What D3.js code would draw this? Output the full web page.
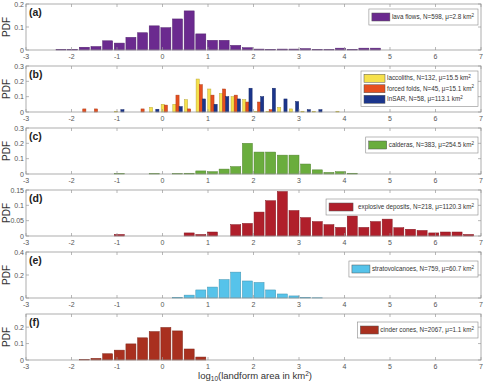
<!DOCTYPE html>
<meta charset="utf-8">
<head>
<script src="https://d3js.org/d3.v7.min.js"></script>
<style>
  body { margin: 0; background: #fff; }
  svg { font-family: "Liberation Sans", Arial, sans-serif; }
</style>
</head>
<body>
<svg id="chart" width="486" height="381"></svg>
<script>
// bin centres shared by all panels (log10 area), bin width ~0.256
const binCenters = d3.range(36).map(i => -2.23 + i * 0.256);
const binWidth = 0.256;

const lavaFlows = [0.003,0.003,0.012,0.015,0.040,0.030,0.055,0.075,0.105,0.097,0.135,0.170,0.070,0.042,0.042,0.020,0.010,0.004,0.003,0.004,0.004,0.006,0.003,0.002,0.008,0.003,0.008,0.008,0,0,0,0,0,0,0,0];
const laccoliths = [0,0,0,0,0,0.005,0,0,0.030,0.050,0.050,0.080,0.215,0.150,0.120,0.100,0.080,0.005,0.004,0.030,0.020,0.005,0.004,0,0.005,0,0,0,0,0,0,0,0,0,0,0];
const forcedFolds = [0,0,0.020,0.020,0,0,0,0.020,0,0.045,0.110,0.020,0.178,0.110,0.150,0.110,0.065,0.065,0.015,0,0,0,0,0,0,0,0,0,0,0,0,0,0,0,0,0];
const insar = [0,0,0,0,0,0.015,0,0,0.018,0,0.035,0,0.085,0.050,0.100,0.085,0.155,0.100,0.155,0.085,0.068,0.015,0.015,0,0,0,0,0,0,0,0,0,0,0,0,0];
const calderas = [0,0,0,0,0,0.002,0,0,0.002,0,0.002,0.005,0.020,0.015,0.032,0.048,0.200,0.143,0.143,0.123,0.123,0.065,0.027,0.010,0.015,0.005,0,0,0,0,0,0,0,0,0,0];
const explosive = [0,0,0,0,0,0.005,0,0,0,0,0,0.010,0.005,0.013,0,0.037,0.041,0.078,0.115,0.145,0.083,0.060,0.047,0.037,0.028,0.065,0.028,0.047,0.055,0.027,0.022,0.018,0.010,0.013,0.013,0.005];
const strato = [0,0,0,0,0,0,0,0,0,0,0.005,0.025,0.070,0.095,0.160,0.225,0.148,0.135,0.070,0.035,0.018,0.004,0.002,0,0,0,0,0,0,0,0,0,0,0,0,0];
const cinder = [0,0,0.002,0.010,0.038,0.060,0.098,0.135,0.173,0.198,0.177,0.067,0.018,0,0,0,0,0,0,0,0,0,0,0,0,0,0,0,0,0,0,0,0,0,0,0];

const xTicks = [-3,-2,-1,0,1,2,3,4,5,6,7];

const panels = [
  {label:"(a)", yMax:0.2, yTicks:[0,0.1,0.2], legTop:5,
   series:[{values:lavaFlows, color:"#6b2a8f", text:"lava flows, N=598, \u03bc=2.8 km"}]},
  {label:"(b)", yMax:0.3, yTicks:[0,0.1,0.2,0.3], legTop:5, grouped:true,
   series:[{values:laccoliths, color:"#f6e14c", text:"laccoliths, N=132, \u03bc=15.5 km"},
           {values:forcedFolds, color:"#e64f1f", text:"forced folds, N=45, \u03bc=15.1 km"},
           {values:insar, color:"#1b358c", text:"InSAR, N=58, \u03bc=113.1 km"}]},
  {label:"(c)", yMax:0.3, yTicks:[0,0.1,0.2,0.3], legTop:9,
   series:[{values:calderas, color:"#6aad3d", text:"calderas, N=383, \u03bc=254.5 km"}]},
  {label:"(d)", yMax:0.15, yTicks:[0,0.05,0.1,0.15], legTop:9, wideSwatch:true,
   series:[{values:explosive, color:"#b01f2b", text:"explosive deposits, N=218, \u03bc=1120.3 km"}]},
  {label:"(e)", yMax:0.4, yTicks:[0,0.2,0.4], legTop:9,
   series:[{values:strato, color:"#56c3ea", text:"stratovolcanoes, N=759, \u03bc=60.7 km"}]},
  {label:"(f)", yMax:0.28, yTicks:[0,0.1,0.2], legTop:8,
   series:[{values:cinder, color:"#a9301f", text:"cinder cones, N=2067, \u03bc=1.1 km"}]}
];

const svg = d3.select("#chart");
const left = 26, right = 481, ph = 46;
const x = d3.scaleLinear().domain([-3, 7]).range([left, right]);
const axisCol = "#9a9a9a", textCol = "#555";

panels.forEach(function(p, pi) {
  const top = 4 + pi * 62, bottom = top + ph;
  const y = d3.scaleLinear().domain([0, p.yMax]).range([bottom, top]);
  const g = svg.append("g");

  // bars
  const n = p.series.length;
  p.series.forEach(function(s, si) {
    const bw = p.grouped ? binWidth * 0.27 : binWidth * 0.86;
    const off = p.grouped ? (si - (n - 1) / 2) * binWidth * 0.27 : 0;
    g.selectAll(null)
      .data(binCenters.map((c, i) => ({c: c, v: s.values[i]})).filter(d => d.v > 0))
      .enter().append("rect")
      .attr("x", d => x(d.c + off - bw / 2))
      .attr("width", x(bw) - x(0))
      .attr("y", d => y(d.v))
      .attr("height", d => bottom - y(d.v))
      .attr("fill", s.color)
      .attr("stroke", d3.color(s.color).darker(0.8))
      .attr("stroke-width", 0.5);
  });

  // box
  g.append("rect").attr("x", left).attr("y", top).attr("width", right - left).attr("height", ph)
    .attr("fill", "none").attr("stroke", axisCol).attr("stroke-width", 0.8);

  // x ticks, inside on bottom and top
  xTicks.forEach(function(t) {
    g.append("line").attr("x1", x(t)).attr("x2", x(t)).attr("y1", bottom).attr("y2", bottom - 3)
      .attr("stroke", axisCol).attr("stroke-width", 0.7);
    g.append("line").attr("x1", x(t)).attr("x2", x(t)).attr("y1", top).attr("y2", top + 3)
      .attr("stroke", axisCol).attr("stroke-width", 0.7);
    g.append("text").attr("x", x(t)).attr("y", bottom + 9).attr("text-anchor", "middle")
      .attr("font-size", 7).attr("fill", textCol).text(t);
  });

  // y ticks
  p.yTicks.forEach(function(t) {
    g.append("line").attr("x1", left).attr("x2", left + 3).attr("y1", y(t)).attr("y2", y(t))
      .attr("stroke", axisCol).attr("stroke-width", 0.7);
    g.append("line").attr("x1", right).attr("x2", right - 3).attr("y1", y(t)).attr("y2", y(t))
      .attr("stroke", axisCol).attr("stroke-width", 0.7);
    g.append("text").attr("x", left - 2).attr("y", y(t) + 2.5).attr("text-anchor", "end")
      .attr("font-size", 7).attr("fill", textCol).text(t);
  });

  // y label
  g.append("text").attr("transform", "translate(10," + (top + ph / 2) + ") rotate(-90)")
    .attr("text-anchor", "middle").attr("font-size", 10).attr("fill", "#333").text("PDF");

  // panel letter
  g.append("text").attr("x", 29).attr("y", top + 12).attr("font-size", 10.5)
    .attr("font-weight", "bold").attr("fill", "#222").text(p.label);

  // legend
  const leg = g.append("g");
  const rowH = p.grouped ? 10.5 : 12;
  const swW = p.wideSwatch ? 24 : (p.grouped ? 21 : 18);
  const gap = p.wideSwatch ? 5 : 2;
  let maxW = 0;
  const box = leg.append("rect").attr("fill", "#fff").attr("stroke", "#8a8a8a").attr("stroke-width", 0.6);
  p.series.forEach(function(s, si) {
    const cy = p.legTop + top + 2 + rowH * si + rowH / 2;
    leg.append("rect").attr("class", "sw")
      .attr("y", cy - 4).attr("width", swW).attr("height", 8)
      .attr("fill", s.color).attr("stroke", "#555").attr("stroke-width", 0.5);
    const tx = leg.append("text").attr("class", "lt").attr("y", cy + 2.2)
      .attr("font-size", 6.3).attr("fill", "#333");
    tx.append("tspan").text(s.text);
    tx.append("tspan").attr("dy", -2.5).attr("font-size", 4.5).text("2");
    maxW = Math.max(maxW, tx.node().getComputedTextLength());
  });
  const bwid = 3 + swW + gap + maxW + 4;
  const bx = 478 - bwid;
  leg.selectAll(".sw").attr("x", bx + 3);
  leg.selectAll(".lt").attr("x", bx + 3 + swW + gap);
  box.attr("x", bx).attr("y", top + p.legTop).attr("width", bwid).attr("height", rowH * n + 4);
});

// x axis title
const xt = svg.append("text").attr("x", 255).attr("y", 379).attr("text-anchor", "middle")
  .attr("font-size", 9.5).attr("fill", "#333");
xt.append("tspan").text("log");
xt.append("tspan").attr("dy", 1.5).attr("font-size", 6.5).text("10");
xt.append("tspan").attr("dy", -1.5).text("(landform area in km");
xt.append("tspan").attr("dy", -3.5).attr("font-size", 6.5).text("2");
xt.append("tspan").attr("dy", 3.5).text(")");
</script>
</body>
